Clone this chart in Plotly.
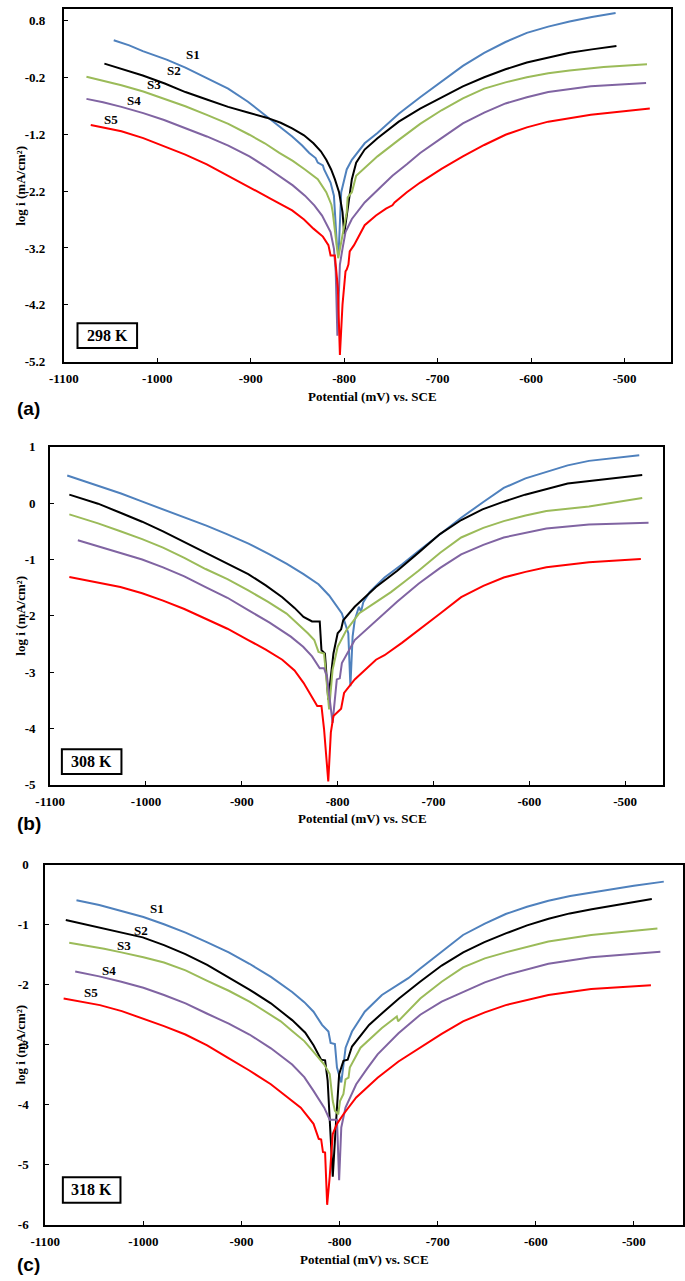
import plotly.graph_objects as go

W, H = 685, 1281

series_names = ["S1", "S2", "S3", "S4", "S5"]
series_colors = ["#4F81BD", "#000000", "#9BBB59", "#8064A2", "#FF0000"]

# ---------------- Panel (a) 298 K ----------------
a_S1_E = [-1046.6, -1030.0, -1015.5, -990.0, -969.9, -947.0, -924.2, -903.0, -883.0, -870.0, -855.7, -845.0, -837.4, -830.6, -828.3, -822.8, -821.5, -814.6, -811.0, -807.8, -806.0, -803.2, -797.3, -791.8, -785.0, -778.1, -764.4, -741.6, -718.7, -695.9, -673.0, -650.2, -627.4, -604.6, -581.7, -558.9, -535.0, -509.6]
a_S1_I = [0.45, 0.36, 0.26, 0.11, -0.03, -0.21, -0.40, -0.63, -0.89, -1.05, -1.24, -1.40, -1.53, -1.62, -1.70, -1.75, -1.82, -2.05, -2.28, -3.15, -3.30, -2.22, -1.82, -1.65, -1.50, -1.36, -1.18, -0.84, -0.55, -0.27, 0.00, 0.23, 0.42, 0.58, 0.69, 0.78, 0.86, 0.93]
a_S2_E = [-1056.6, -1035.0, -1015.5, -992.0, -969.9, -947.0, -924.2, -903.0, -883.0, -868.0, -855.7, -843.0, -832.9, -825.0, -819.2, -814.0, -810.0, -805.5, -801.8, -800.0, -794.1, -791.8, -787.2, -778.1, -764.4, -741.6, -718.7, -695.9, -673.0, -650.2, -627.4, -604.6, -581.7, -558.9, -535.0, -508.7]
a_S2_I = [0.04, -0.07, -0.17, -0.31, -0.46, -0.59, -0.72, -0.82, -0.91, -1.00, -1.10, -1.22, -1.36, -1.50, -1.65, -1.82, -1.99, -2.22, -2.57, -2.95, -2.22, -1.99, -1.70, -1.47, -1.27, -0.98, -0.75, -0.55, -0.36, -0.20, -0.06, 0.06, 0.15, 0.23, 0.29, 0.35]
a_S3_E = [-1075.8, -1058.0, -1038.4, -1015.0, -992.7, -970.0, -947.0, -924.0, -901.4, -885.0, -869.4, -855.0, -842.0, -828.3, -819.2, -813.7, -812.3, -809.1, -806.4, -798.6, -797.3, -796.3, -791.8, -787.2, -776.0, -764.4, -741.6, -718.7, -695.9, -673.0, -650.2, -627.4, -604.6, -581.7, -558.9, -522.4, -476.0]
a_S3_I = [-0.19, -0.26, -0.34, -0.45, -0.58, -0.71, -0.86, -1.02, -1.21, -1.36, -1.53, -1.67, -1.82, -1.99, -2.22, -2.44, -2.57, -3.03, -3.38, -2.69, -2.57, -2.31, -2.22, -1.93, -1.76, -1.59, -1.30, -1.02, -0.78, -0.57, -0.40, -0.29, -0.20, -0.13, -0.08, -0.02, 0.03]
a_S4_E = [-1075.8, -1058.0, -1038.4, -1015.0, -992.7, -970.0, -947.0, -924.0, -901.4, -885.0, -869.4, -855.0, -842.0, -832.0, -823.7, -814.6, -811.0, -809.1, -807.3, -804.6, -801.8, -798.6, -791.8, -778.1, -759.8, -748.4, -733.0, -718.7, -695.9, -673.0, -650.2, -627.4, -604.6, -581.7, -536.1, -477.0]
a_S4_I = [-0.58, -0.64, -0.72, -0.83, -0.95, -1.09, -1.24, -1.40, -1.59, -1.76, -1.93, -2.10, -2.28, -2.45, -2.63, -2.92, -3.21, -3.61, -4.74, -3.49, -3.21, -2.92, -2.69, -2.40, -2.11, -1.93, -1.73, -1.53, -1.27, -1.01, -0.82, -0.66, -0.55, -0.46, -0.36, -0.30]
a_S5_E = [-1071.2, -1055.0, -1038.4, -1015.0, -992.7, -970.0, -947.0, -924.0, -901.4, -878.0, -855.7, -843.0, -832.9, -822.8, -816.9, -814.6, -810.0, -806.8, -804.6, -801.8, -798.6, -797.3, -795.5, -794.1, -789.5, -778.1, -766.0, -755.3, -748.4, -746.1, -733.0, -718.7, -695.9, -673.0, -650.2, -627.4, -604.6, -581.7, -536.1, -473.0]
a_S5_I = [-1.04, -1.09, -1.15, -1.27, -1.41, -1.56, -1.73, -1.93, -2.14, -2.34, -2.54, -2.70, -2.86, -3.00, -3.15, -3.33, -3.33, -3.90, -5.08, -4.19, -3.61, -3.58, -3.49, -3.26, -3.15, -2.80, -2.63, -2.51, -2.45, -2.40, -2.22, -2.05, -1.81, -1.59, -1.39, -1.21, -1.08, -0.98, -0.86, -0.75]

# ---------------- Panel (b) 308 K ----------------
b_S1_E = [-1082.2, -1048.9, -1026.0, -1004.4, -982.0, -960.0, -937.0, -915.6, -893.0, -871.1, -853.0, -835.6, -820.0, -808.9, -795.6, -788.9, -786.7, -784.4, -782.2, -777.8, -775.6, -773.3, -766.7, -751.1, -733.0, -715.6, -693.0, -671.1, -648.0, -626.7, -604.0, -582.2, -560.0, -537.8, -485.3]
b_S1_I = [0.49, 0.30, 0.17, 0.03, -0.11, -0.26, -0.40, -0.55, -0.72, -0.91, -1.08, -1.26, -1.44, -1.64, -1.96, -2.31, -3.25, -2.37, -2.08, -1.84, -1.93, -1.76, -1.58, -1.32, -1.09, -0.85, -0.55, -0.26, 0.02, 0.27, 0.44, 0.56, 0.67, 0.75, 0.85]
b_S2_E = [-1080.0, -1050.0, -1026.7, -1004.0, -982.2, -960.0, -937.8, -915.0, -893.3, -875.0, -857.8, -845.0, -835.6, -826.7, -818.7, -816.9, -813.3, -809.8, -804.4, -800.0, -796.4, -794.2, -782.2, -760.0, -737.8, -715.0, -693.3, -671.0, -648.9, -626.0, -604.4, -560.0, -515.6, -482.2]
b_S2_I = [0.15, -0.01, -0.17, -0.33, -0.50, -0.69, -0.88, -1.07, -1.26, -1.46, -1.67, -1.86, -2.02, -2.10, -2.10, -2.61, -2.67, -3.49, -2.67, -2.31, -2.24, -2.08, -1.84, -1.49, -1.20, -0.87, -0.55, -0.30, -0.11, 0.03, 0.15, 0.35, 0.44, 0.50]
b_S3_E = [-1080.0, -1050.0, -1026.7, -1004.0, -982.2, -960.0, -937.8, -915.0, -893.3, -873.0, -853.3, -840.0, -831.1, -824.4, -820.0, -814.2, -808.9, -805.3, -800.0, -791.1, -777.8, -762.0, -746.7, -744.4, -730.0, -715.6, -693.0, -671.1, -648.0, -626.7, -604.0, -582.2, -560.0, -537.8, -482.2]
b_S3_I = [-0.20, -0.36, -0.50, -0.64, -0.79, -0.97, -1.17, -1.35, -1.55, -1.75, -1.96, -2.16, -2.31, -2.43, -2.64, -2.67, -3.66, -2.96, -2.55, -2.26, -1.96, -1.78, -1.61, -1.58, -1.39, -1.20, -0.88, -0.61, -0.44, -0.32, -0.22, -0.14, -0.10, -0.06, 0.09]
b_S4_E = [-1071.1, -1050.0, -1026.7, -1004.0, -982.2, -960.0, -937.8, -915.0, -893.3, -871.0, -848.9, -836.0, -826.7, -818.7, -814.2, -811.1, -805.3, -800.9, -797.8, -795.6, -782.2, -760.0, -738.0, -715.6, -693.0, -671.1, -648.0, -626.7, -582.2, -537.8, -475.6]
b_S4_I = [-0.66, -0.77, -0.88, -1.00, -1.14, -1.30, -1.49, -1.68, -1.90, -2.12, -2.37, -2.55, -2.72, -2.93, -2.93, -3.08, -3.90, -3.13, -3.11, -2.84, -2.43, -2.08, -1.75, -1.43, -1.15, -0.91, -0.74, -0.61, -0.45, -0.38, -0.35]
b_S5_E = [-1080.0, -1050.0, -1026.7, -1004.0, -982.2, -960.0, -937.8, -915.0, -893.3, -875.0, -857.8, -845.0, -835.6, -826.7, -821.3, -816.9, -814.2, -809.8, -807.1, -804.4, -799.1, -796.4, -793.3, -782.2, -760.0, -751.1, -733.0, -715.6, -693.0, -671.1, -648.0, -626.7, -604.0, -582.2, -537.8, -483.6]
b_S5_I = [-1.31, -1.41, -1.49, -1.60, -1.73, -1.88, -2.05, -2.23, -2.43, -2.60, -2.78, -2.97, -3.19, -3.43, -3.60, -3.60, -4.01, -4.94, -4.07, -3.78, -3.69, -3.65, -3.37, -3.13, -2.78, -2.70, -2.48, -2.26, -1.96, -1.67, -1.47, -1.32, -1.22, -1.14, -1.05, -0.99]

# ---------------- Panel (c) 318 K ----------------
c_S1_E = [-1068.2, -1045.0, -1022.5, -1000.0, -979.0, -957.0, -935.4, -913.0, -891.9, -870.0, -848.4, -836.0, -826.6, -817.9, -811.4, -809.2, -804.8, -802.7, -798.3, -793.9, -787.4, -774.4, -756.9, -743.9, -730.0, -717.8, -696.0, -674.2, -652.0, -630.7, -609.0, -587.2, -565.0, -543.6, -500.1, -469.6]
c_S1_I = [-0.59, -0.67, -0.77, -0.87, -0.99, -1.13, -1.29, -1.46, -1.65, -1.87, -2.12, -2.29, -2.45, -2.67, -2.78, -2.97, -2.99, -3.38, -3.63, -3.05, -2.78, -2.45, -2.17, -2.04, -1.89, -1.73, -1.45, -1.17, -0.98, -0.82, -0.70, -0.60, -0.52, -0.46, -0.35, -0.28]
c_S2_E = [-1079.1, -1060.0, -1044.3, -1022.0, -1000.7, -979.0, -957.2, -935.0, -913.7, -892.0, -870.1, -848.4, -835.0, -826.6, -818.8, -814.8, -812.2, -810.1, -807.0, -804.0, -800.5, -796.1, -791.8, -787.4, -770.0, -755.0, -739.5, -718.0, -696.0, -674.0, -652.4, -630.0, -608.9, -587.0, -565.4, -543.0, -521.8, -481.8]
c_S2_I = [-0.92, -0.99, -1.05, -1.13, -1.21, -1.34, -1.49, -1.67, -1.87, -2.08, -2.31, -2.59, -2.80, -3.01, -3.25, -3.26, -3.60, -4.21, -5.20, -4.38, -3.49, -3.27, -3.25, -3.03, -2.67, -2.45, -2.23, -1.95, -1.68, -1.46, -1.29, -1.14, -1.01, -0.90, -0.81, -0.74, -0.68, -0.57]
c_S3_E = [-1075.6, -1057.3, -1040.0, -1022.5, -1000.0, -979.0, -957.0, -935.4, -913.0, -891.9, -875.0, -860.0, -848.4, -836.0, -826.6, -815.7, -810.1, -807.0, -804.8, -801.4, -799.6, -796.1, -794.0, -790.9, -789.6, -778.7, -756.9, -743.0, -741.7, -740.4, -717.8, -696.0, -674.2, -652.0, -630.7, -587.2, -543.6, -476.1]
c_S3_I = [-1.30, -1.35, -1.40, -1.46, -1.54, -1.63, -1.76, -1.93, -2.10, -2.28, -2.46, -2.61, -2.77, -2.94, -3.12, -3.33, -3.49, -3.94, -4.10, -4.16, -3.94, -3.82, -3.58, -3.55, -3.38, -3.05, -2.72, -2.56, -2.53, -2.61, -2.23, -1.95, -1.71, -1.56, -1.46, -1.28, -1.17, -1.06]
c_S4_E = [-1069.5, -1045.0, -1022.5, -1000.0, -979.0, -957.0, -935.4, -913.0, -891.9, -870.0, -848.4, -836.0, -826.6, -815.7, -810.1, -802.7, -800.5, -798.3, -794.0, -783.1, -772.0, -761.3, -740.0, -717.8, -696.0, -674.2, -652.0, -630.7, -587.2, -543.6, -473.1]
c_S4_I = [-1.78, -1.86, -1.95, -2.05, -2.17, -2.31, -2.48, -2.65, -2.83, -3.06, -3.33, -3.54, -3.77, -4.05, -4.25, -4.25, -5.26, -4.38, -4.05, -3.66, -3.40, -3.16, -2.81, -2.50, -2.28, -2.12, -1.96, -1.84, -1.65, -1.54, -1.45]
c_S5_E = [-1081.3, -1060.0, -1044.3, -1022.0, -1000.7, -979.0, -957.2, -935.0, -913.7, -892.0, -870.1, -855.0, -839.6, -826.6, -821.3, -818.8, -817.0, -814.8, -812.7, -810.1, -807.0, -802.7, -796.1, -783.1, -772.0, -761.3, -740.0, -717.8, -696.0, -674.2, -652.0, -630.7, -587.2, -543.6, -482.7]
c_S5_I = [-2.23, -2.29, -2.34, -2.44, -2.56, -2.69, -2.83, -3.01, -3.22, -3.43, -3.66, -3.85, -4.05, -4.32, -4.57, -4.58, -4.79, -4.80, -5.67, -5.20, -4.49, -4.32, -4.16, -3.88, -3.71, -3.55, -3.28, -3.05, -2.82, -2.61, -2.46, -2.34, -2.17, -2.07, -2.01]

# axis ticks / labels
x_tickvals = [-1100, -1000, -900, -800, -700, -600, -500]
x_ticktext = ["-1100", "-1000", "-900", "-800", "-700", "-600", "-500"]
a_y_tickvals = [-5.2, -4.2, -3.2, -2.2, -1.2, -0.2, 0.8]
a_y_ticktext = ["-5.2", "-4.2", "-3.2", "-2.2", "-1.2", "-0.2", "0.8"]
b_y_tickvals = [-5, -4, -3, -2, -1, 0, 1]
b_y_ticktext = ["-5", "-4", "-3", "-2", "-1", "0", "1"]
c_y_tickvals = [-6, -5, -4, -3, -2, -1, 0]
c_y_ticktext = ["-6", "-5", "-4", "-3", "-2", "-1", "0"]

temps = ["298 K", "308 K", "318 K"]
panel_tags = ["(a)", "(b)", "(c)"]
x_title = "Potential (mV) vs. SCE"
y_title = "log i (mA/cm²)"

# series label positions (data coords) for panels a and c
a_lab_E = [-962, -982, -1003, -1025, -1050]
a_lab_I = [0.20, -0.08, -0.32, -0.60, -0.94]
c_lab_E = [-986, -1002, -1020, -1035, -1053]
c_lab_I = [-0.73, -1.09, -1.34, -1.76, -2.13]

panels = [
    dict(E=[a_S1_E, a_S2_E, a_S3_E, a_S4_E, a_S5_E], I=[a_S1_I, a_S2_I, a_S3_I, a_S4_I, a_S5_I],
         px_x=(50, 672), px_y=(2, 359), xr=[-1100, -450], yr=[-5.2, 1.0],
         yt=(a_y_tickvals, a_y_ticktext), ystand=14,
         box=(64, 125, 320, 345), xt_pos=(366, 394), yt_pos=(6, 181), tag_pos=(0, 406),
         labs=(a_lab_E, a_lab_I)),
    dict(E=[b_S1_E, b_S2_E, b_S3_E, b_S4_E, b_S5_E], I=[b_S1_I, b_S2_I, b_S3_I, b_S4_I, b_S5_I],
         px_x=(36, 664), px_y=(445, 787), xr=[-1100, -460], yr=[-5, 1],
         yt=(b_y_tickvals, b_y_ticktext), ystand=10,
         box=(48, 109, 751, 776), xt_pos=(356, 821), yt_pos=(6, 616), tag_pos=(0, 826),
         labs=None),
    dict(E=[c_S1_E, c_S2_E, c_S3_E, c_S4_E, c_S5_E], I=[c_S1_I, c_S2_I, c_S3_I, c_S4_I, c_S5_I],
         px_x=(31, 684), px_y=(868, 1232), xr=[-1100, -450], yr=[-6, 0],
         yt=(c_y_tickvals, c_y_ticktext), ystand=12,
         box=(49, 108, 1184, 1210), xt_pos=(358, 1267), yt_pos=(6, 1050), tag_pos=(0, 1272),
         labs=(c_lab_E, c_lab_I)),
]

def px2x(p):
    return p / W

def px2y(p):
    return 1 - p / H

SERIF = "Liberation Serif, Times New Roman, serif"

fig = go.Figure()
layout = dict(width=W, height=H, margin=dict(l=0, r=0, t=0, b=0),
              paper_bgcolor="white", plot_bgcolor="white", showlegend=False,
              font=dict(family=SERIF, color="black"))
annotations = []
shapes = []
serif_b = dict(family=SERIF, size=13, color="black", weight="bold")

for k, p in enumerate(panels):
    xa = "xaxis" if k == 0 else f"xaxis{k+1}"
    ya = "yaxis" if k == 0 else f"yaxis{k+1}"
    xref = "x" if k == 0 else f"x{k+1}"
    yref = "y" if k == 0 else f"y{k+1}"
    for s in range(5):
        fig.add_trace(go.Scatter(x=p["E"][s], y=p["I"][s], mode="lines", name=series_names[s],
                                 line=dict(color=series_colors[s], width=2),
                                 xaxis=xref, yaxis=yref))
    layout[xa] = dict(domain=[px2x(p["px_x"][0]), px2x(p["px_x"][1])], range=p["xr"],
                      anchor=yref, showgrid=False, zeroline=False, showline=True, mirror=True,
                      linecolor="black", linewidth=2, ticks="inside", ticklen=4, tickwidth=1,
                      tickcolor="black", tickvals=x_tickvals, ticktext=x_ticktext,
                      tickfont=serif_b, ticklabelstandoff=4)
    layout[ya] = dict(domain=[px2y(p["px_y"][1]), px2y(p["px_y"][0])], range=p["yr"],
                      anchor=xref, showgrid=False, zeroline=False, showline=True, mirror=True,
                      linecolor="black", linewidth=2, ticks="inside", ticklen=4, tickwidth=1,
                      tickcolor="black", tickvals=p["yt"][0], ticktext=p["yt"][1],
                      tickfont=serif_b, ticklabelstandoff=p["ystand"])
    annotations.append(dict(text=x_title, xref="paper", yref="paper",
                            x=px2x(p["xt_pos"][0]), y=px2y(p["xt_pos"][1]),
                            xanchor="center", yanchor="middle", showarrow=False, font=serif_b))
    annotations.append(dict(text=y_title, xref="paper", yref="paper",
                            x=px2x(p["yt_pos"][0]), y=px2y(p["yt_pos"][1]), textangle=-90,
                            xanchor="center", yanchor="middle", showarrow=False, font=serif_b))
    annotations.append(dict(text=panel_tags[k], xref="paper", yref="paper",
                            x=px2x(p["tag_pos"][0]), y=px2y(p["tag_pos"][1]),
                            xanchor="left", yanchor="middle", showarrow=False,
                            font=dict(family="Liberation Sans, Arial, sans-serif", size=19,
                                      color="black", weight="bold")))
    bx0, bx1, by0, by1 = p["box"]
    shapes.append(dict(type="rect", xref="paper", yref="paper",
                       x0=px2x(bx0), x1=px2x(bx1), y0=px2y(by1), y1=px2y(by0),
                       line=dict(color="black", width=2), fillcolor="white"))
    annotations.append(dict(text=temps[k], xref="paper", yref="paper",
                            x=px2x((bx0 + bx1) / 2), y=px2y((by0 + by1) / 2),
                            xanchor="center", yanchor="middle", showarrow=False,
                            font=dict(family=SERIF, size=16, color="black", weight="bold")))
    if p["labs"] is not None:
        for s in range(5):
            annotations.append(dict(text=series_names[s], xref=xref, yref=yref,
                                    x=p["labs"][0][s], y=p["labs"][1][s],
                                    xanchor="center", yanchor="middle", showarrow=False,
                                    font=serif_b))

layout["annotations"] = annotations
layout["shapes"] = shapes
fig.update_layout(**layout)
fig.write_html("out.html", config={"displayModeBar": False},
               post_script="document.body.style.margin='0';")
